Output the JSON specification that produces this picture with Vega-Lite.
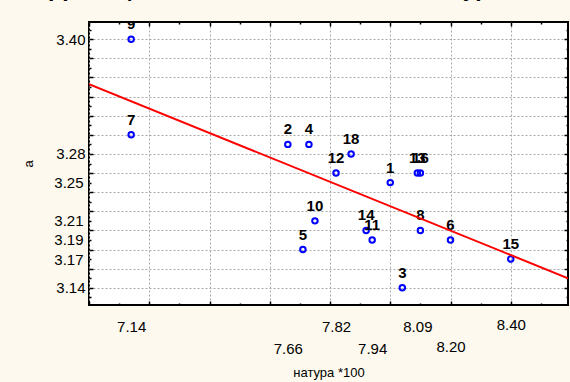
{
  "$schema": "https://vega.github.io/schema/vega-lite/v6.json",
  "width": 479,
  "height": 283,
  "autosize": {"type": "none"},
  "padding": {"left": 89, "top": 22, "right": 2, "bottom": 77},
  "background": "#FDF9EE",
  "config": {
    "view": {"fill": "white", "stroke": "black", "strokeWidth": 2},
    "font": "Liberation Sans",
    "axis": {
      "domain": false,
      "labelFont": "Liberation Sans",
      "labelFontSize": 15,
      "labelColor": "black",
      "labelFlush": false,
      "labelOverlap": false,
      "labelBound": false,
      "tickColor": "black",
      "tickWidth": 1.5,
      "titleFont": "Liberation Sans",
      "titleFontSize": 13,
      "titleFontWeight": "normal",
      "titleColor": "black"
    }
  },
  "title": {
    "text": "Корреляционная зависимость a от натура *100",
    "anchor": "start",
    "frame": "group",
    "dx": -69,
    "offset": 2,
    "baseline": "alphabetic",
    "fontSize": 23,
    "fontWeight": "bold",
    "font": "Liberation Sans",
    "color": "black"
  },
  "datasets": {
    "pts": [
      {"id": "1", "natura": 8.00, "a": 3.25},
      {"id": "2", "natura": 7.66, "a": 3.29},
      {"id": "3", "natura": 8.04, "a": 3.14},
      {"id": "4", "natura": 7.73, "a": 3.29},
      {"id": "5", "natura": 7.71, "a": 3.18},
      {"id": "6", "natura": 8.20, "a": 3.19},
      {"id": "7", "natura": 7.14, "a": 3.30},
      {"id": "8", "natura": 8.10, "a": 3.20},
      {"id": "9", "natura": 7.14, "a": 3.40},
      {"id": "10", "natura": 7.75, "a": 3.21},
      {"id": "11", "natura": 7.94, "a": 3.19},
      {"id": "12", "natura": 7.82, "a": 3.26},
      {"id": "13", "natura": 8.09, "a": 3.26},
      {"id": "14", "natura": 7.92, "a": 3.20},
      {"id": "15", "natura": 8.40, "a": 3.17},
      {"id": "16", "natura": 8.10, "a": 3.26},
      {"id": "18", "natura": 7.87, "a": 3.28}
    ],
    "fit": [
      {"natura": 7.0, "a": 3.353},
      {"natura": 8.59, "a": 3.150}
    ]
  },
  "resolve": {"axis": {"x": "independent", "y": "independent"}},
  "layer": [
    {
      "data": {"name": "pts"},
      "mark": {"type": "point", "shape": "circle", "filled": false, "color": "#0000FF", "size": 30, "strokeWidth": 2, "opacity": 1, "clip": true},
      "encoding": {
        "x": {
          "field": "natura", "type": "quantitative",
          "scale": {"domain": [7.0, 8.59], "nice": false, "zero": false},
          "axis": {
            "orient": "bottom",
            "title": "натура *100",
            "titlePadding": 10,
            "values": [7.0, 7.1, 7.14, 7.2, 7.3, 7.4, 7.5, 7.6, 7.66, 7.7, 7.8, 7.82, 7.9, 7.94, 8.0, 8.09, 8.1, 8.2, 8.3, 8.4, 8.5],
            "labelExpr": "indexof(['7.14','7.66','7.82','7.94','8.09','8.20','8.40'], format(datum.value, '.2f')) >= 0 ? format(datum.value, '.2f') : ''",
            "labelPadding": {"condition": {"test": "indexof(['7.66','7.94','8.20'], format(datum.value, '.2f')) >= 0", "value": 38}, "value": 16},
            "grid": true,
            "gridDash": [2, 2],
            "gridColor": "#A8A8A8",
            "gridWidth": 1,
            "gridOpacity": {"condition": {"test": "abs(datum.value*5 - round(datum.value*5)) < 0.001", "value": 1}, "value": 0},
            "tickSize": {"condition": {"test": "abs(datum.value*5 - round(datum.value*5)) < 0.001", "value": -4}, "value": -2},
            "tickOpacity": {"condition": {"test": "abs(datum.value*10 - round(datum.value*10)) < 0.001", "value": 1}, "value": 0}
          }
        },
        "y": {
          "field": "a", "type": "quantitative",
          "scale": {"domain": [3.122, 3.418], "nice": false, "zero": false},
          "axis": {
            "orient": "left",
            "title": "a",
            "titlePadding": 18,
            "values": [3.13, 3.14, 3.15, 3.16, 3.17, 3.18, 3.19, 3.2, 3.21, 3.22, 3.23, 3.24, 3.25, 3.26, 3.27, 3.28, 3.29, 3.3, 3.31, 3.32, 3.33, 3.34, 3.35, 3.36, 3.37, 3.38, 3.39, 3.4, 3.41],
            "labelExpr": "indexof(['3.40','3.28','3.25','3.21','3.19','3.17','3.14'], format(datum.value, '.2f')) >= 0 ? format(datum.value, '.2f') : ''",
            "labelPadding": 8,
            "grid": true,
            "gridDash": [2, 2],
            "gridColor": "#A8A8A8",
            "gridWidth": 1,
            "gridOpacity": {"condition": {"test": "abs(datum.value*50 - round(datum.value*50)) < 0.001", "value": 1}, "value": 0},
            "tickSize": {"condition": {"test": "abs(datum.value*50 - round(datum.value*50)) < 0.001", "value": -4}, "value": -2}
          }
        }
      }
    },
    {
      "data": {"name": "pts"},
      "mark": {"type": "text", "font": "Liberation Sans", "fontSize": 15, "fontWeight": "bold", "color": "black", "baseline": "alphabetic", "dy": -10, "clip": true},
      "encoding": {
        "x": {
          "field": "natura", "type": "quantitative",
          "axis": {
            "orient": "top", "title": null, "labels": false, "grid": false,
            "values": [7.0, 7.1, 7.2, 7.3, 7.4, 7.5, 7.6, 7.7, 7.8, 7.9, 8.0, 8.1, 8.2, 8.3, 8.4, 8.5],
            "tickSize": {"condition": {"test": "abs(datum.value*5 - round(datum.value*5)) < 0.001", "value": -4}, "value": -2}
          }
        },
        "y": {
          "field": "a", "type": "quantitative",
          "axis": {
            "orient": "right", "title": null, "labels": false, "grid": false,
            "values": [3.13, 3.14, 3.15, 3.16, 3.17, 3.18, 3.19, 3.2, 3.21, 3.22, 3.23, 3.24, 3.25, 3.26, 3.27, 3.28, 3.29, 3.3, 3.31, 3.32, 3.33, 3.34, 3.35, 3.36, 3.37, 3.38, 3.39, 3.4, 3.41],
            "tickSize": {"condition": {"test": "abs(datum.value*50 - round(datum.value*50)) < 0.001", "value": -4}, "value": -2}
          }
        },
        "text": {"field": "id"}
      }
    },
    {
      "data": {"name": "fit"},
      "mark": {"type": "line", "color": "#FF0000", "strokeWidth": 2, "clip": true},
      "encoding": {
        "x": {"field": "natura", "type": "quantitative", "axis": null},
        "y": {"field": "a", "type": "quantitative", "axis": null}
      }
    }
  ]
}
